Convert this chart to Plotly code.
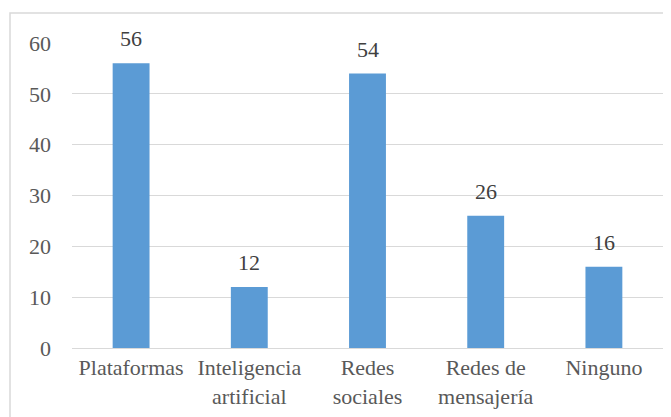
import plotly.graph_objects as go

categories = ["Plataformas", "Inteligencia<br>artificial", "Redes<br>sociales", "Redes de<br>mensajería", "Ninguno"]
values = [56, 12, 54, 26, 16]
y_ticks = [0, 10, 20, 30, 40, 50, 60]

font_family = "Times New Roman, Liberation Serif, DejaVu Serif, serif"
txt_color = "#595959"

fig = go.Figure(go.Bar(
    x=categories, y=values,
    marker=dict(color="#5B9BD5", line=dict(width=0)),
    cliponaxis=False,
))

for c, v in zip(categories, values):
    fig.add_annotation(x=c, y=v, text=str(v), showarrow=False,
                       yanchor="bottom", yshift=10,
                       font=dict(family=font_family, size=22, color="#404040"))

OFF = 8  # page body margin
L, R, T, B = 72 - OFF, 8, 43 - OFF, 69
W, H = 671 - OFF, 417 - OFF
pw = W - L - R
ph = H - T - B

fig.update_layout(
    width=W, height=H,
    margin=dict(l=L, r=R, t=T, b=B, autoexpand=False),
    paper_bgcolor="white", plot_bgcolor="white",
    bargap=0.688,
    showlegend=False,
    font=dict(family=font_family, size=22, color=txt_color),
    xaxis=dict(showline=False, ticks="", tickfont=dict(family=font_family, size=22, color=txt_color),
               ticklabelstandoff=4, showgrid=False),
    yaxis=dict(range=[0, 60], tickvals=y_ticks, showgrid=True, gridcolor="#d9d9d9",
               gridwidth=1, zeroline=True, zerolinecolor="#d9d9d9", zerolinewidth=1,
               showline=False, ticks="", ticklabelstandoff=20,
               tickfont=dict(family=font_family, size=22, color=txt_color)),
    shapes=[dict(type="rect", xref="paper", yref="paper",
                 x0=(10 - OFF - L) / pw, x1=(W + 5 - L) / pw,
                 y0=-(B + 10) / ph, y1=((H - B) - (13 - OFF)) / ph,
                 line=dict(color="#d9d9d9", width=1.5), fillcolor="rgba(0,0,0,0)",
                 layer="below")],
)

fig.write_html("out.html")
